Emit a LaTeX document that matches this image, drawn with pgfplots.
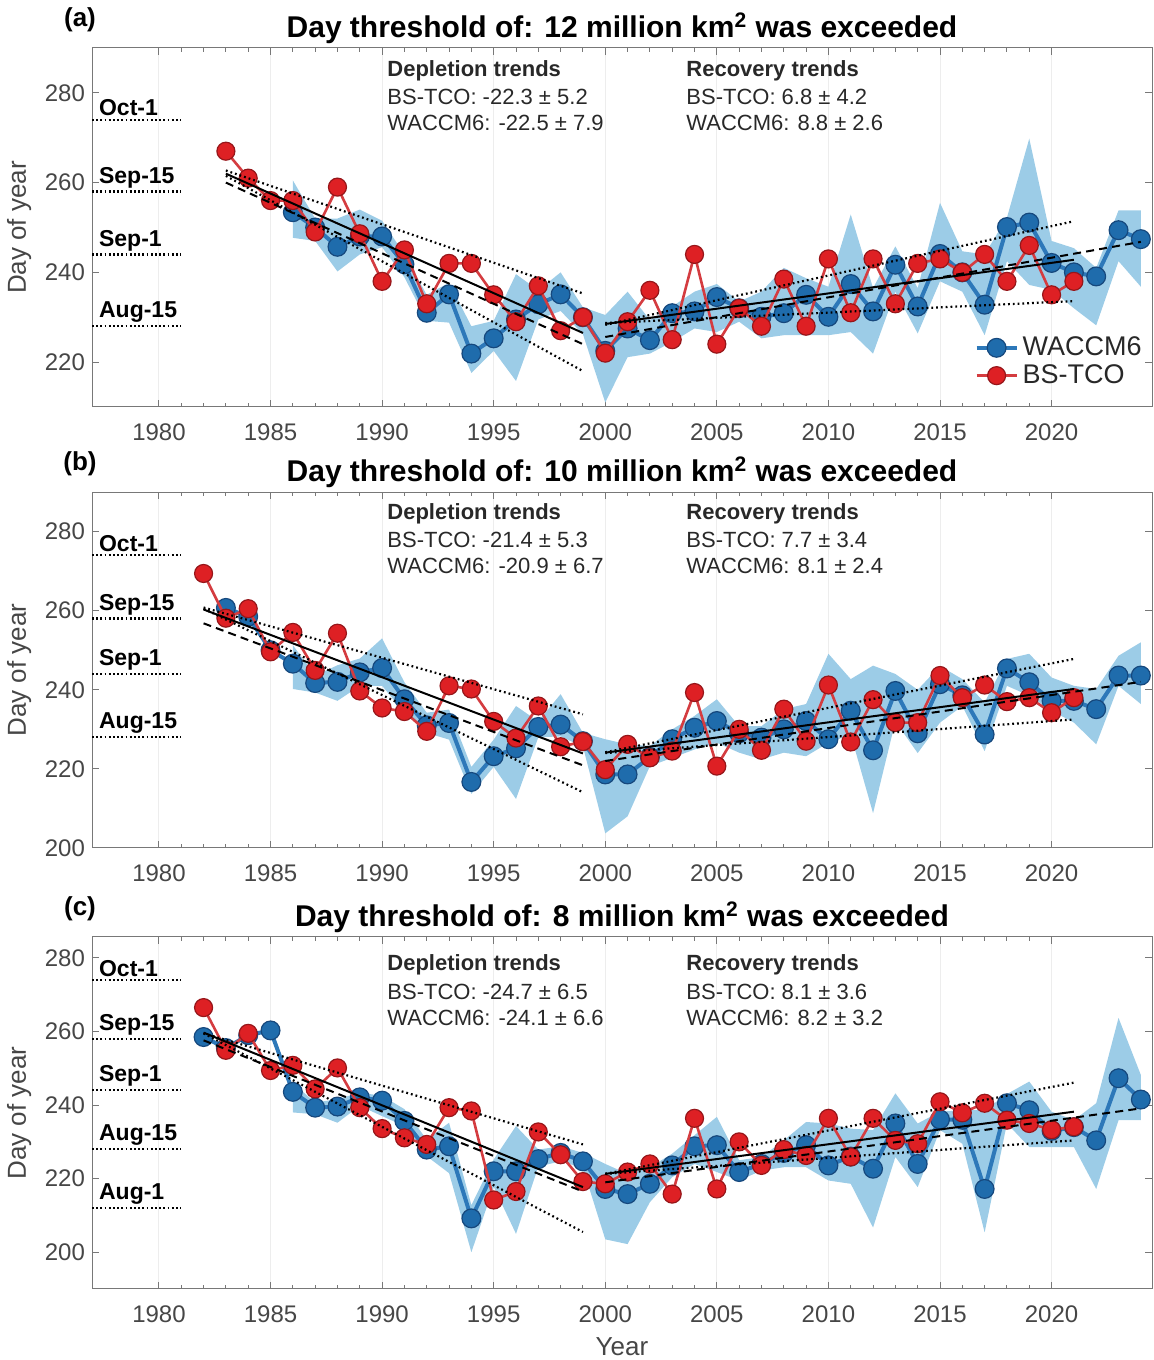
\documentclass[border=0pt]{standalone}
\usepackage{fontspec}
\setmainfont{Liberation Sans}
\usepackage{pgfplots}
\pgfplotsset{compat=1.18}
\usepackage{pgfplotstable}
\usepgfplotslibrary{fillbetween}

\definecolor{wblue}{RGB}{31,108,172}
\definecolor{wedge}{RGB}{22,72,125}
\definecolor{wline}{RGB}{45,120,185}
\definecolor{bred}{RGB}{222,32,36}
\definecolor{redge}{RGB}{150,22,26}
\definecolor{rline}{RGB}{212,60,64}
\definecolor{shade}{RGB}{156,204,231}
\definecolor{axgray}{RGB}{120,120,120}
\definecolor{labgray}{RGB}{70,70,70}
\definecolor{txtgray}{RGB}{40,40,40}

% ---------------- Panel (a) ----------------
\pgfplotstableread{
yr val
1983 267
1984 261
1985 256
1986 256
1987 249
1988 259
1989 248.6
1990 238
1991 245
1992 233
1993 242
1994 242
1995 235
1996 229
1997 237
1998 227
1999 230
2000 222
2001 229
2002 236
2003 225
2004 244
2005 224
2006 232
2007 228
2008 238.5
2009 228
2010 243
2011 231
2012 243
2013 233
2014 242
2015 243
2016 240
2017 244
2018 238
2019 246
2020 235
2021 238
}\Ared
\pgfplotstableread{
yr val lo up
1986 253.4 247.7 260.5
1987 250.0 247.0 252.0
1988 245.7 240.2 252.0
1989 248.0 244.0 254.0
1990 248.0 245.6 251.5
1991 241.8 238.9 244.0
1992 231.0 229.2 235.0
1993 235.1 228.8 237.7
1994 221.9 217.6 228.0
1995 225.3 222.5 229.2
1996 229.5 215.8 239.6
1997 232.9 229.5 236.0
1998 235.1 231.4 240.0
1999 230.0 226.2 232.2
2000 222.5 211.0 230.5
2001 227.5 221.1 235.7
2002 224.9 221.9 229.4
2003 230.9 224.5 232.4
2004 231.3 227.5 235.7
2005 234.5 226.7 237.4
2006 232.0 229.0 233.5
2007 230.1 225.3 235.7
2008 230.9 226.0 241.0
2009 235.0 226.0 238.7
2010 230.1 226.0 236.8
2011 237.4 226.7 252.9
2012 231.3 221.9 236.5
2013 241.7 235.7 245.8
2014 232.4 226.4 236.5
2015 244.1 238.0 255.5
2016 240.0 235.7 244.7
2017 232.8 226.0 244.0
2018 250.1 242.5 252.2
2019 251.1 237.2 269.8
2020 242.1 236.1 247.0
2021 240.0 232.0 245.4
2022 239.1 228.2 241.0
2023 249.4 242.5 253.8
2024 247.4 236.8 253.8
}\Ablue

% ---------------- Panel (b) ----------------
\pgfplotstableread{
yr val
1982 269.4
1983 258.1
1984 260.5
1985 249.6
1986 254.5
1987 244.9
1988 254.3
1989 239.7
1990 235.4
1991 234.5
1992 229.5
1993 241.0
1994 240.2
1995 232.0
1996 227.8
1997 235.9
1998 225.6
1999 226.9
2000 219.8
2001 226.2
2002 222.8
2003 224.5
2004 239.3
2005 220.7
2006 230.0
2007 224.7
2008 235.1
2009 227.0
2010 241.2
2011 226.8
2012 237.5
2013 231.7
2014 231.7
2015 243.6
2016 238.0
2017 241.2
2018 237.0
2019 238.0
2020 234.2
2021 238.0
}\Bred
\pgfplotstableread{
yr val
1983 260.7
1984 258.5
1985 250.0
1986 246.6
1987 241.7
1988 242.0
1989 244.4
1990 245.5
1991 237.6
1992 231.0
1993 231.6
1994 216.7
1995 223.2
1996 225.2
1997 230.6
1998 231.2
1999 227.0
2000 218.6
2001 218.6
2002 223.0
2003 227.5
2004 230.4
2005 232.1
2006 229.0
2007 227.9
2008 230.0
2009 232.1
2010 227.5
2011 234.7
2012 224.7
2013 239.7
2014 229.0
2015 241.4
2016 238.6
2017 228.7
2018 245.4
2019 241.9
2020 237.2
2021 237.2
2022 235.1
2023 243.6
2024 243.6
}\Bblue
\pgfplotstableread{
yr lo up
1986 240.2 251.3
1987 239.3 243.6
1988 237.2 246.2
1989 241.0 247.9
1990 241.0 253.0
1991 234.2 241.9
1992 229.1 234.2
1993 227.4 235.0
1994 213.7 220.5
1995 220.5 227.4
1996 212.4 235.9
1997 228.0 232.0
1998 228.2 238.9
1999 225.6 229.1
2000 203.7 227.5
2001 208.0 226.2
2002 220.7 225.8
2003 222.8 230.0
2004 224.9 233.4
2005 226.6 237.6
2006 224.1 230.8
2007 222.4 230.8
2008 224.1 235.1
2009 223.2 236.4
2010 226.6 249.1
2011 228.7 242.7
2012 208.8 246.1
2013 232.0 244.0
2014 224.0 240.0
2015 231.7 246.0
2016 235.9 242.7
2017 224.5 236.8
2018 241.0 247.8
2019 238.5 249.1
2020 234.7 243.1
2021 231.7 241.0
2022 226.2 240.2
2023 241.0 248.6
2024 236.4 252.0
}\Bshade

% ---------------- Panel (c) ----------------
\pgfplotstableread{
yr val
1982 266.5
1983 254.9
1984 259.5
1985 249.4
1986 250.8
1987 244.4
1988 250.1
1989 239.3
1990 233.6
1991 231.1
1992 229.3
1993 239.3
1994 238.4
1995 214.2
1996 216.5
1997 232.7
1998 226.5
1999 219.2
2000 218.6
2001 221.8
2002 224.0
2003 215.8
2004 236.4
2005 217.2
2006 230.0
2007 223.6
2008 227.9
2009 226.3
2010 236.4
2011 225.9
2012 236.4
2013 230.4
2014 229.5
2015 240.9
2016 237.9
2017 240.5
2018 235.9
2019 235.0
2020 233.3
2021 234.1
}\Cred
\pgfplotstableread{
yr val
1982 258.5
1983 255.5
1984 259.0
1985 260.3
1986 243.6
1987 239.3
1988 239.6
1989 242.1
1990 241.2
1991 235.7
1992 227.9
1993 228.8
1994 209.2
1995 222.0
1996 222.0
1997 225.3
1998 227.0
1999 224.7
2000 217.2
2001 215.8
2002 218.6
2003 223.6
2004 228.8
2005 229.1
2006 221.8
2007 224.0
2008 227.0
2009 229.1
2010 223.6
2011 226.0
2012 222.7
2013 235.0
2014 224.0
2015 236.1
2016 236.0
2017 217.2
2018 240.5
2019 238.6
2020 233.0
2021 234.0
2022 230.4
2023 247.3
2024 241.5
}\Cblue
\pgfplotstableread{
yr lo up
1986 238.0 246.0
1987 237.5 240.7
1988 235.2 241.6
1989 239.8 243.4
1990 237.0 242.5
1991 234.3 238.9
1992 226.1 230.6
1993 221.5 235.2
1994 200.0 212.8
1995 217.8 225.2
1996 205.0 234.3
1997 223.3 227.9
1998 224.7 228.8
1999 222.9 227.0
2000 203.5 224.0
2001 202.2 221.3
2002 213.6 223.1
2003 220.4 226.8
2004 224.0 231.8
2005 221.8 236.8
2006 219.5 225.0
2007 222.2 225.9
2008 223.1 230.4
2009 223.1 235.4
2010 219.5 235.0
2011 218.6 233.6
2012 206.7 233.2
2013 225.9 243.2
2014 217.7 235.0
2015 233.2 238.2
2016 229.5 238.6
2017 205.4 238.6
2018 235.0 243.0
2019 228.6 246.4
2020 228.6 238.2
2021 228.6 235.9
2022 217.2 240.5
2023 235.9 263.7
2024 235.9 248.2
}\Cshade

\pgfplotsset{
  panel/.style={
    scale only axis, width=530pt,
    xmin=1977, xmax=2024.5,
    xtick={1980,1985,...,2020}, minor x tick num=4,
    ytick={200,220,...,280},
    tick align=inside,
    major tick length=3.5pt, minor tick length=2pt,
    axis line style={draw=axgray, line width=0.5pt},
    every tick/.style={draw=axgray, line width=0.5pt},
    tick label style={font=\fontsize{12}{14}\selectfont, text=labgray},
    xticklabel style={yshift=-5pt},
    /pgf/number format/assume math mode=true,
    /pgf/number format/1000 sep={},
    xmajorgrids, major grid style={draw=black!7, line width=0.5pt},
    ylabel={Day of year},
    ylabel style={font=\fontsize{13}{15}\selectfont, text=labgray},
    title style={font=\bfseries\fontsize{15}{17}\selectfont, yshift=-7.5pt},
    clip mode=individual,
    legend cell align=left,
  },
  wacc/.style={color=wline, line width=2pt, mark=*, mark size=4.7pt,
    mark options={fill=wblue, draw=wedge, line width=0.6pt, solid}},
  bstc/.style={color=rline, line width=1.3pt, mark=*, mark size=4.5pt,
    mark options={fill=bred, draw=redge, line width=0.6pt, solid}},
  fit/.style={black, line width=1pt, forget plot},
  fitd/.style={black, line width=1pt, dash pattern=on 4pt off 2.6pt, forget plot},
  fito/.style={black, line width=1.1pt, dash pattern=on 0.9pt off 1.5pt, forget plot},
  dateline/.style={black, line width=1.1pt, dash pattern=on 0.9pt off 1.2pt, forget plot},
}
\tikzset{
  datelab/.style={font=\bfseries\fontsize{11.5}{13}\selectfont, anchor=south west, inner sep=0pt, yshift=1.6pt},
  trendtxt/.style={font=\fontsize{11}{13}\selectfont, text=txtgray, anchor=west, inner sep=0pt},
  trendhead/.style={font=\bfseries\fontsize{11}{13}\selectfont, text=txtgray, anchor=west, inner sep=0pt},
  plab/.style={font=\bfseries\fontsize{13}{15}\selectfont, anchor=center},
}

\begin{document}
\begin{tikzpicture}

% ====================== (a) ======================
\begin{axis}[panel, at={(46pt,476.5pt)}, anchor=south west, height=179.5pt,
  ymin=210, ymax=290,
  title={Day threshold of: 12 million km\textsuperscript{2} was exceeded},
  legend style={at={(1,0)}, anchor=south east, xshift=-2pt, yshift=7pt,
    draw=none, fill=none, font=\fontsize{13.5}{15}\selectfont, text=txtgray,
    inner sep=1pt, row sep=-1pt},
  legend image code/.code={\draw[mark repeat=2,mark phase=2,#1] plot coordinates {(0pt,0pt) (10pt,0pt) (20pt,0pt)};},
]
\addplot[draw=none, name path=AU, forget plot] table[x=yr,y=up] {\Ablue};
\addplot[draw=none, name path=AL, forget plot] table[x=yr,y=lo] {\Ablue};
\addplot[fill=shade, draw=none, forget plot] fill between[of=AU and AL];
\addplot[wacc] table[x=yr,y=val] {\Ablue};
\addplot[bstc] table[x=yr,y=val] {\Ared};
\legend{WACCM6, BS-TCO}
% depletion
\addplot[fito] coordinates {(1983,262.7) (1999,235.3)};
\addplot[fito] coordinates {(1983,261.5) (1999,218.0)};
\addplot[fit] coordinates {(1983,262.0) (1999,226.5)};
\addplot[fitd] coordinates {(1983,260.0) (1999,224.0)};
% recovery
\addplot[fito] coordinates {(2000,228.3) (2021,251.4)};
\addplot[fito] coordinates {(2000,228.7) (2021,233.6)};
\addplot[fit] coordinates {(2000,228.5) (2021,242.8)};
\addplot[fitd] coordinates {(2000,225.6) (2024,246.8)};
% date lines
\addplot[dateline] coordinates {(1977,274) (1981,274)};
\addplot[dateline] coordinates {(1977,258) (1981,258)};
\addplot[dateline] coordinates {(1977,244) (1981,244)};
\addplot[dateline] coordinates {(1977,228) (1981,228)};
\node[datelab] at (axis cs:1977.3,274) {Oct-1};
\node[datelab] at (axis cs:1977.3,258) {Sep-15};
\node[datelab] at (axis cs:1977.3,244) {Sep-1};
\node[datelab] at (axis cs:1977.3,228) {Aug-15};
\node[trendhead] at (axis description cs:0.2783,1) [yshift=-11.5pt] {Depletion trends};
\node[trendtxt] at (axis description cs:0.2783,1) [yshift=-24.5pt] {BS-TCO: -22.3 ± 5.2};
\node[trendtxt] at (axis description cs:0.2783,1) [yshift=-37.5pt] {WACCM6: -22.5 ± 7.9};
\node[trendhead] at (axis description cs:0.5604,1) [yshift=-11.5pt] {Recovery trends};
\node[trendtxt] at (axis description cs:0.5604,1) [yshift=-24.5pt] {BS-TCO: 6.8 ± 4.2};
\node[trendtxt] at (axis description cs:0.5604,1) [yshift=-37.5pt] {WACCM6: 8.8 ± 2.6};
\node[plab] at (axis description cs:0,1) [xshift=-6pt, yshift=14pt] {(a)};
\end{axis}

% ====================== (b) ======================
\begin{axis}[panel, at={(46pt,256pt)}, anchor=south west, height=178pt,
  ymin=200, ymax=290,
  title={Day threshold of: 10 million km\textsuperscript{2} was exceeded},
]
\addplot[draw=none, name path=BU, forget plot] table[x=yr,y=up] {\Bshade};
\addplot[draw=none, name path=BL, forget plot] table[x=yr,y=lo] {\Bshade};
\addplot[fill=shade, draw=none, forget plot] fill between[of=BU and BL];
\addplot[wacc] table[x=yr,y=val] {\Bblue};
\addplot[bstc] table[x=yr,y=val] {\Bred};
% depletion
\addplot[fito] coordinates {(1982,260.8) (1999,233.8)};
\addplot[fito] coordinates {(1982,260.5) (1999,214.1)};
\addplot[fit] coordinates {(1982,260.3) (1999,223.9)};
\addplot[fitd] coordinates {(1982,256.8) (1999,220.9)};
% recovery
\addplot[fito] coordinates {(2000,224.2) (2021,247.8)};
\addplot[fito] coordinates {(2000,224.0) (2021,232.5)};
\addplot[fit] coordinates {(2000,224.1) (2021,240.2)};
\addplot[fitd] coordinates {(2000,222.0) (2024,242.0)};
% date lines
\addplot[dateline] coordinates {(1977,274) (1981,274)};
\addplot[dateline] coordinates {(1977,258) (1981,258)};
\addplot[dateline] coordinates {(1977,244) (1981,244)};
\addplot[dateline] coordinates {(1977,228) (1981,228)};
\node[datelab] at (axis cs:1977.3,274) {Oct-1};
\node[datelab] at (axis cs:1977.3,258) {Sep-15};
\node[datelab] at (axis cs:1977.3,244) {Sep-1};
\node[datelab] at (axis cs:1977.3,228) {Aug-15};
\node[trendhead] at (axis description cs:0.2783,1) [yshift=-11pt] {Depletion trends};
\node[trendtxt] at (axis description cs:0.2783,1) [yshift=-24pt] {BS-TCO: -21.4 ± 5.3};
\node[trendtxt] at (axis description cs:0.2783,1) [yshift=-37pt] {WACCM6: -20.9 ± 6.7};
\node[trendhead] at (axis description cs:0.5604,1) [yshift=-11pt] {Recovery trends};
\node[trendtxt] at (axis description cs:0.5604,1) [yshift=-24pt] {BS-TCO: 7.7 ± 3.4};
\node[trendtxt] at (axis description cs:0.5604,1) [yshift=-37pt] {WACCM6: 8.1 ± 2.4};
\node[plab] at (axis description cs:0,1) [xshift=-6pt, yshift=14pt] {(b)};
\end{axis}

% ====================== (c) ======================
\begin{axis}[panel, at={(46pt,35.5pt)}, anchor=south west, height=176pt,
  ymin=190, ymax=285.7,
  title={Day threshold of: 8 million km\textsuperscript{2} was exceeded},
  xlabel={Year},
  xlabel style={font=\fontsize{13}{15}\selectfont, text=labgray, yshift=-0.5pt},
]
\addplot[draw=none, name path=CU, forget plot] table[x=yr,y=up] {\Cshade};
\addplot[draw=none, name path=CL, forget plot] table[x=yr,y=lo] {\Cshade};
\addplot[fill=shade, draw=none, forget plot] fill between[of=CU and CL];
\addplot[wacc] table[x=yr,y=val] {\Cblue};
\addplot[bstc] table[x=yr,y=val] {\Cred};
% depletion
\addplot[fito] coordinates {(1982,259.5) (1999,229.3)};
\addplot[fito] coordinates {(1982,259.5) (1999,205.5)};
\addplot[fit] coordinates {(1982,259.7) (1999,217.7)};
\addplot[fitd] coordinates {(1982,257.6) (1999,216.5)};
% recovery
\addplot[fito] coordinates {(2000,221.3) (2021,246.1)};
\addplot[fito] coordinates {(2000,221.3) (2021,230.4)};
\addplot[fit] coordinates {(2000,221.3) (2021,238.2)};
\addplot[fitd] coordinates {(2000,219.0) (2024,239.1)};
% date lines
\addplot[dateline] coordinates {(1977,274) (1981,274)};
\addplot[dateline] coordinates {(1977,258) (1981,258)};
\addplot[dateline] coordinates {(1977,244) (1981,244)};
\addplot[dateline] coordinates {(1977,228) (1981,228)};
\addplot[dateline] coordinates {(1977,212) (1981,212)};
\node[datelab] at (axis cs:1977.3,274) {Oct-1};
\node[datelab] at (axis cs:1977.3,258) {Sep-15};
\node[datelab] at (axis cs:1977.3,244) {Sep-1};
\node[datelab] at (axis cs:1977.3,228) {Aug-15};
\node[datelab] at (axis cs:1977.3,212) {Aug-1};
\node[trendhead] at (axis description cs:0.2783,1) [yshift=-14pt] {Depletion trends};
\node[trendtxt] at (axis description cs:0.2783,1) [yshift=-27.5pt] {BS-TCO: -24.7 ± 6.5};
\node[trendtxt] at (axis description cs:0.2783,1) [yshift=-40.5pt] {WACCM6: -24.1 ± 6.6};
\node[trendhead] at (axis description cs:0.5604,1) [yshift=-14pt] {Recovery trends};
\node[trendtxt] at (axis description cs:0.5604,1) [yshift=-27.5pt] {BS-TCO: 8.1 ± 3.6};
\node[trendtxt] at (axis description cs:0.5604,1) [yshift=-40.5pt] {WACCM6: 8.2 ± 3.2};
\node[plab] at (axis description cs:0,1) [xshift=-6pt, yshift=14pt] {(c)};
\end{axis}

\pgfresetboundingbox
\path[use as bounding box] (0,0) rectangle (577pt,680pt);
\end{tikzpicture}
\end{document}
